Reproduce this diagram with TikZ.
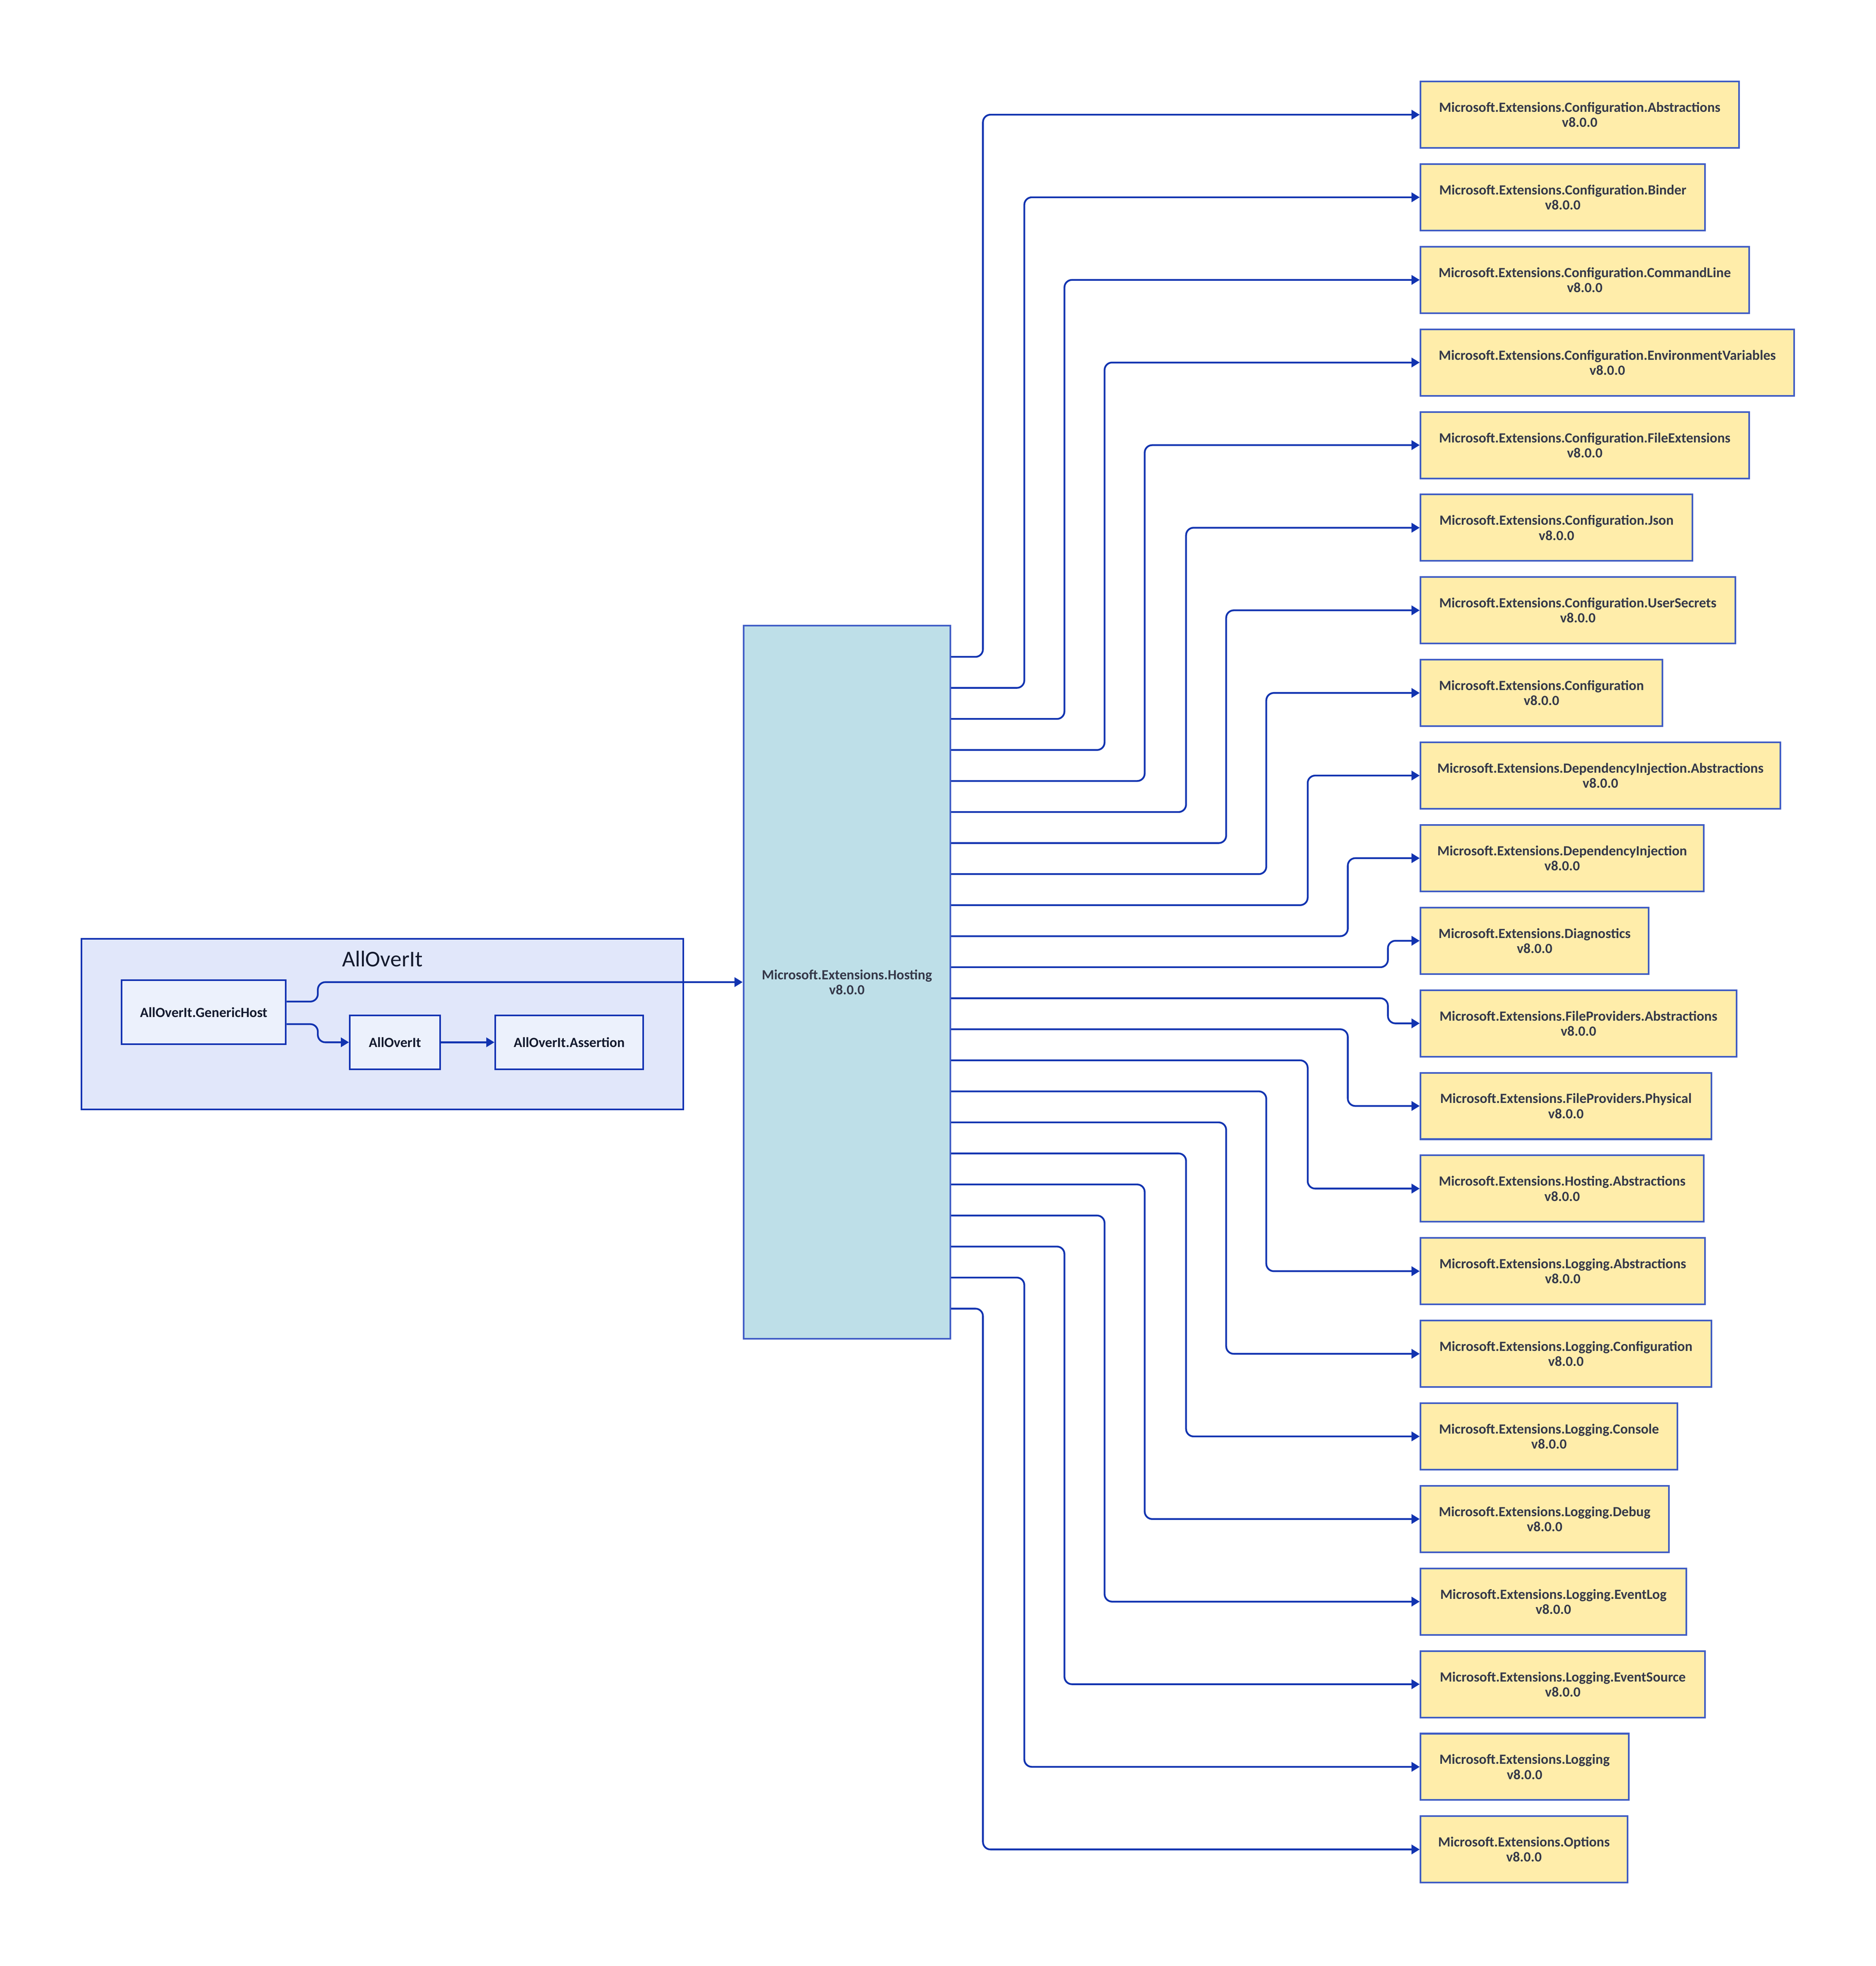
\documentclass[tikz,border=0pt]{standalone}
\usepackage{fontspec}
\setmainfont{Carlito}
\usetikzlibrary{arrows.meta,calc}
\definecolor{connblue}{HTML}{1133B0}
\definecolor{grpfill}{HTML}{E1E7FA}
\definecolor{grpline}{HTML}{1232B2}
\definecolor{innerfill}{HTML}{ECF1FC}
\definecolor{hostfill}{HTML}{BEDFE8}
\definecolor{hostline}{HTML}{405DC6}
\definecolor{depfill}{HTML}{FFEDAA}
\definecolor{depline}{HTML}{3F5CC4}
\definecolor{txt}{HTML}{353849}
\definecolor{titletxt}{HTML}{141A2E}
\tikzset{
  lbl/.style={font=\fontsize{11.2}{12}\selectfont\bfseries, text=txt, align=center, inner sep=0pt},
  twoline/.style={execute at begin node={\rule{0pt}{11.6pt}}},
  grpbox/.style={draw=grpline, fill=grpfill, line width=1.4pt, inner sep=0pt},
  innerbox/.style={lbl, text=titletxt, draw=grpline, fill=innerfill, line width=1.3pt},
  hostbox/.style={lbl, twoline, draw=hostline, fill=hostfill, line width=1.3pt},
  depbox/.style={lbl, twoline, draw=depline, fill=depfill, line width=1.3pt, minimum height=53pt},
  conn/.style={draw=connblue, line width=1.4pt, rounded corners=6pt, -{Triangle[length=6.5pt,width=7.5pt]}}
}
\begin{document}
\begin{tikzpicture}[x=1pt,y=-1pt]
\useasboundingbox (0,0) rectangle (1496,1568.4);
% group
\node[grpbox, minimum width=480pt, minimum height=136pt] (grp) at (305,817) {};
\node[font=\fontsize{18}{20}\selectfont, text=titletxt, inner sep=0pt] (grptitle) at (305,765) {AllOverIt};
\node[innerbox, minimum width=131pt, minimum height=51pt] (gh) at (162.5,807.5) {AllOverIt.GenericHost};
\node[innerbox, minimum width=72pt, minimum height=43pt] (ao) at (315,831.5) {AllOverIt};
\node[innerbox, minimum width=118pt, minimum height=43pt] (as) at (454,831.5) {AllOverIt.Assertion};
% hosting
\node[hostbox, minimum width=165pt, minimum height=569pt] (host) at (675.5,783.5) {Microsoft.Extensions.Hosting\\v8.0.0};
% left connectors
\path (gh.east) ++ (0,-8.5) coordinate (g1);
\path (gh.east) ++ (0,9.5) coordinate (g2);
\draw[conn] (g1) -- (253.5,799) -- (253.5,783.5) -- (host.west);
\draw[conn] (g2) -- (253.5,817) -- (253.5,831.5) -- (ao.west);
\draw[conn] (ao.east) -- (as.west);
% dependencies
\foreach \i/\lab/\rx/\vx in {
 0/Configuration.Abstractions/1387/784,
 1/Configuration.Binder/1360/817,
 2/Configuration.CommandLine/1395/849,
 3/Configuration.EnvironmentVariables/1431/881,
 4/Configuration.FileExtensions/1395/913,
 5/Configuration.Json/1350/946,
 6/Configuration.UserSecrets/1384/978,
 7/Configuration/1326/1010,
 8/DependencyInjection.Abstractions/1420/1043,
 9/DependencyInjection/1359/1075,
 10/Diagnostics/1315/1107,
 11/FileProviders.Abstractions/1385/1107,
 12/FileProviders.Physical/1365/1075,
 13/Hosting.Abstractions/1359/1043,
 14/Logging.Abstractions/1360/1010,
 15/Logging.Configuration/1365/978,
 16/Logging.Console/1338/946,
 17/Logging.Debug/1331/913,
 18/Logging.EventLog/1345/881,
 19/Logging.EventSource/1360/849,
 20/Logging/1299/817,
 21/Options/1298/784}
{
 \pgfmathsetmacro\cy{91.5+65.9*\i}
 \pgfmathsetmacro\sy{524+24.76*\i}
 \pgfmathsetmacro\w{\rx-1133}
 \pgfmathsetmacro\cx{1133+\w/2}
 \node[depbox, minimum width=\w pt] (r\i) at (\cx,\cy) {Microsoft.Extensions.\lab\\v8.0.0};
 \path (host.east) ++ (0,{\sy-783.5}) coordinate (s\i);
 \draw[conn] (s\i) -- (\vx,\sy) -- (\vx,\cy) -- (r\i.west);
}
\end{tikzpicture}
\end{document}
